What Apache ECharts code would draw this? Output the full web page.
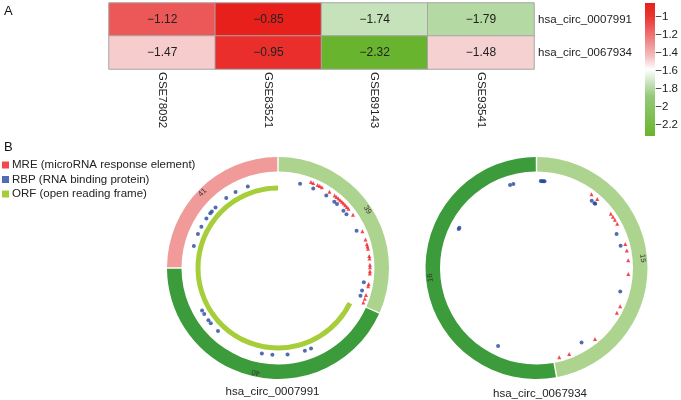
<!DOCTYPE html>
<html><head><meta charset="utf-8">
<script src="https://cdn.jsdelivr.net/npm/echarts@6/dist/echarts.min.js"></script>
<style>html,body{margin:0;padding:0;background:#fff}#c{width:681px;height:400px}</style>
</head><body><div id="c"></div><script>
// ---------- Panel A data ----------
const datasets = ['GSE78092', 'GSE83521', 'GSE89143', 'GSE93541'];
const circRNAs = ['hsa_circ_0007991', 'hsa_circ_0067934'];
const expr0007991 = [-1.12, -0.85, -1.74, -1.79];
const expr0067934 = [-1.47, -0.95, -2.32, -1.48];
const colorbarTicks = [-1, -1.2, -1.4, -1.6, -1.8, -2, -2.2];
const scaleMin = -2.32, scaleMax = -0.85;

// ---------- Panel B data ----------
const legendNames = ['MRE (microRNA response element)', 'RBP (RNA binding protein)', 'ORF (open reading frame)'];
// circle 1: hsa_circ_0007991 (angles in degrees, clockwise from 12 o'clock)
const ring1Names = ['39', '40', '41'];
const ring1Spans = [114, 156, 90];
const orf1Start = 116, orf1Span = 244;
const mre1Angles = [21, 22.5, 25.5, 27, 28.5, 34, 38, 39.5, 41, 42.5, 44, 45.5, 47, 48.5, 50, 54.6,
  66.5, 72, 75, 76.5, 78, 82.5, 84, 88, 89.5, 92, 93.5, 100, 101.5, 107, 109.5, 112];
const rbp1Angles = [14.7, 23.9, 33.7, 40.3, 42.7, 48.8, 51.9, 64.6, 99.4, 105, 108.6,
  157.7, 162, 173.7, 183.7, 190.7, 223.6, 230.6, 233.1, 238, 240.8,
  284.7, 293, 298.3, 304.6, 308.9, 310.5, 314.1, 323.5, 330.8, 339.7];
// circle 2: hsa_circ_0067934
const ring2Names = ['15', '16'];
const ring2Spans = [169.5, 190.5];
const mre2Angles = [36.7, 41.3, 53.9, 56.2, 58.4, 61.3, 74.9, 79, 85.2, 93.7, 114.6, 119.1, 140.5, 159.2, 165.7];
const rbp2Angles = [2.8, 3.6, 4.6, 5.3, 39.4, 41.8, 42.5, 67, 75.2, 105.7, 148.8, 206.2, 296.6, 297.6, 342.3, 344.6];
const circleTitles = ['hsa_circ_0007991', 'hsa_circ_0067934'];

// ---------- styles ----------
const FONT = '"Liberation Sans", Arial, Helvetica, sans-serif';
const TXT = '#222';
const scaleColors = ['#69b42e', '#78bb46', '#87c25f', '#96c978', '#c8e3be', '#ffffff',
  '#f3bebe', '#f08e8e', '#ed5f5f', '#e93432', '#e8201c'];
const minusify = s => String(s).replace('-', '\u2212');
const C1 = [278, 268], C2 = [536.5, 268];
const R_OUT = 111, R_IN = 96.5, R_MRE = 92, R_RBP = 87;
const MRE_COLOR = '#ee1c22', RBP_COLOR = '#24479f', ORF_COLOR = '#a6cd3a';
const RING_COLORS1 = ['#acd48e', '#3c9b3b', '#f09a9a'];
const RING_COLORS2 = ['#acd48e', '#3c9b3b'];

const heatData = [];
[expr0007991, expr0067934].forEach((row, yi) => row.forEach((v, xi) => heatData.push([xi, yi, v])));

function ringData(names, spans, colors) {
  let acc = 0;
  return names.map((n, i) => {
    const mid = acc + spans[i] / 2; acc += spans[i];
    return { name: n, value: spans[i], itemStyle: { color: colors[i] }, label: { rotate: -mid } };
  });
}
function ringSeries(center, names, spans, colors) {
  return {
    type: 'pie', center: center, radius: [R_IN, R_OUT], startAngle: 90, clockwise: true,
    padAngle: 0.8, silent: true, animation: false, avoidLabelOverlap: false,
    label: { show: true, position: 'inside', fontSize: 7.5, color: '#333', fontFamily: FONT, formatter: '{b}' },
    labelLine: { show: false }, emphasis: { disabled: true },
    data: ringData(names, spans, colors)
  };
}
function pts(angles, r) { return angles.map(a => [r, a]); }

const stops = scaleColors.map((c, i) => ({ offset: 1 - i / (scaleColors.length - 1), color: c }));

const option = {
  animation: false,
  backgroundColor: '#fff',
  textStyle: { fontFamily: FONT },
  grid: [
    { left: 109, top: 3, width: 425, height: 66 },
    { left: 645, top: 3, width: 10, height: 133, show: false }
  ],
  xAxis: [
    { type: 'category', gridIndex: 0, data: datasets, axisLine: { show: false }, axisTick: { show: false },
      splitArea: { show: false },
      axisLabel: { rotate: -90, margin: 3, fontSize: 11.5, color: TXT, fontFamily: FONT } },
    { type: 'value', gridIndex: 1, show: false }
  ],
  yAxis: [
    { type: 'category', gridIndex: 0, data: circRNAs, inverse: true, position: 'right',
      axisLine: { show: false }, axisTick: { show: false }, splitArea: { show: false },
      axisLabel: { margin: 4, fontSize: 11.5, color: TXT, fontFamily: FONT } },
    { type: 'value', gridIndex: 1, min: scaleMin, max: scaleMax, position: 'right',
      axisLine: { show: false }, axisTick: { show: false }, splitLine: { show: false },
      axisLabel: { customValues: colorbarTicks, margin: 3, fontSize: 11.5, color: TXT, fontFamily: FONT,
        formatter: v => minusify(+v.toFixed(1)) } }
  ],
  visualMap: { type: 'continuous', show: false, min: scaleMin, max: scaleMax, seriesIndex: 0,
    inRange: { color: scaleColors } },
  polar: [ { center: C1, radius: R_OUT }, { center: C2, radius: R_OUT } ],
  radiusAxis: [
    { polarIndex: 0, min: 0, max: R_OUT, show: false },
    { polarIndex: 1, min: 0, max: R_OUT, show: false }
  ],
  angleAxis: [
    { polarIndex: 0, type: 'value', min: 0, max: 360, startAngle: 90, clockwise: true, show: false },
    { polarIndex: 1, type: 'value', min: 0, max: 360, startAngle: 90, clockwise: true, show: false }
  ],
  legend: {
    data: [
      { name: legendNames[0], icon: 'rect' },
      { name: legendNames[1], icon: 'rect' },
      { name: legendNames[2], icon: 'rect' }
    ],
    orient: 'vertical', left: 2, top: 159, itemWidth: 7, itemHeight: 7, itemGap: 2.5, padding: 0,
    selectedMode: false,
    textStyle: { fontSize: 11.5, color: TXT, fontFamily: FONT, padding: [0, 0, 0, -2] }
  },
  graphic: [
    { type: 'rect', shape: { x: 645, y: 3, width: 10, height: 133 },
      style: { fill: new echarts.graphic.LinearGradient(0, 0, 0, 1, stops) }, silent: true },
    { type: 'text', x: 4, y: 5, style: { text: 'A', fontSize: 13, fill: '#111', fontFamily: FONT } },
    { type: 'text', x: 4, y: 141, style: { text: 'B', fontSize: 13, fill: '#111', fontFamily: FONT } },
    { type: 'text', x: 272.5, y: 386, style: { text: circleTitles[0], fontSize: 11.5, fill: TXT, fontFamily: FONT, align: 'center', textAlign: 'center' } },
    { type: 'text', x: 540, y: 388, style: { text: circleTitles[1], fontSize: 11.5, fill: TXT, fontFamily: FONT, align: 'center', textAlign: 'center' } }
  ],
  series: [
    { type: 'heatmap', xAxisIndex: 0, yAxisIndex: 0, data: heatData, silent: true,
      itemStyle: { borderColor: '#a6a6a6', borderWidth: 1 },
      label: { show: true, fontSize: 12, color: TXT, fontFamily: FONT,
        formatter: p => minusify(p.value[2].toFixed(2)) },
      emphasis: { disabled: true } },
    ringSeries(C1, ring1Names, ring1Spans, RING_COLORS1),
    ringSeries(C2, ring2Names, ring2Spans, RING_COLORS2),
    { type: 'pie', center: C1, radius: [77.5, 82.5], startAngle: 90, clockwise: true, silent: true,
      label: { show: false }, labelLine: { show: false }, emphasis: { disabled: true },
      data: [
        { name: 'gap', value: orf1Start, itemStyle: { color: 'rgba(0,0,0,0)' } },
        { name: legendNames[2], value: orf1Span, itemStyle: { color: ORF_COLOR } }
      ] },
    { name: legendNames[0], type: 'scatter', coordinateSystem: 'polar', polarIndex: 0, symbol: 'triangle',
      symbolSize: 4, itemStyle: { color: MRE_COLOR }, silent: true, data: pts(mre1Angles, R_MRE) },
    { name: legendNames[1], type: 'scatter', coordinateSystem: 'polar', polarIndex: 0, symbol: 'circle',
      symbolSize: 4, itemStyle: { color: RBP_COLOR }, silent: true, data: pts(rbp1Angles, R_RBP) },
    { name: legendNames[0], type: 'scatter', coordinateSystem: 'polar', polarIndex: 1, symbol: 'triangle',
      symbolSize: 4, itemStyle: { color: MRE_COLOR }, silent: true, data: pts(mre2Angles, R_MRE) },
    { name: legendNames[1], type: 'scatter', coordinateSystem: 'polar', polarIndex: 1, symbol: 'circle',
      symbolSize: 4, itemStyle: { color: RBP_COLOR }, silent: true, data: pts(rbp2Angles, R_RBP) }
  ]
};
const chart = echarts.init(document.getElementById('c'), null, { renderer: 'canvas', width: 681, height: 400 });
chart.setOption(option);
</script></body></html>
